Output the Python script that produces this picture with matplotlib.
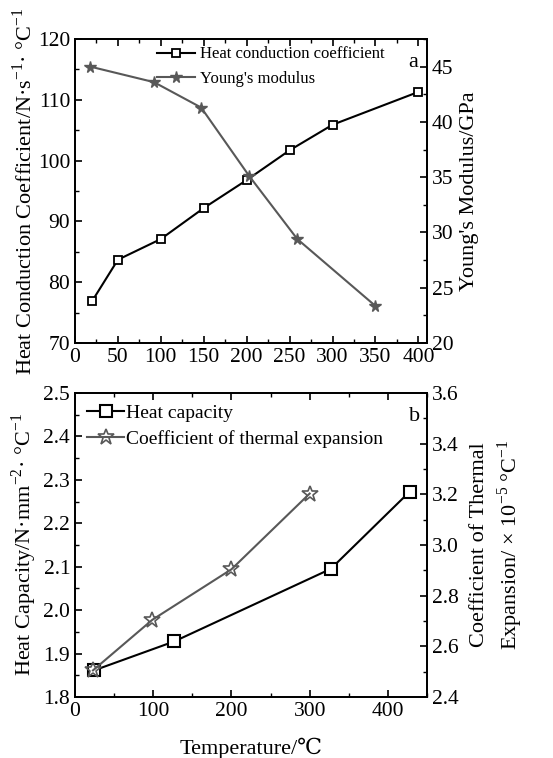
import matplotlib
matplotlib.use("Agg")
import matplotlib.pyplot as plt
from matplotlib.ticker import MultipleLocator

plt.rcParams["font.family"] = ["Liberation Serif", "DejaVu Serif"]
plt.rcParams["mathtext.fontset"] = "custom"
plt.rcParams["mathtext.rm"] = "Liberation Serif"
plt.rcParams["xtick.direction"] = "in"
plt.rcParams["ytick.direction"] = "in"

# panel a
temp_hc = [20, 50, 100, 150, 200, 250, 300, 400]
heat_cond = [76.9, 83.7, 87.1, 92.2, 96.8, 101.7, 105.9, 111.3]
temp_ym = [18, 92, 147, 203, 259, 350]
youngs = [45.0, 43.6, 41.3, 35.1, 29.4, 23.35]

# panel b
temp_cap = [24, 127, 327, 428]
heat_cap = [1.861, 1.928, 2.095, 2.273]
temp_cte = [23, 99, 200, 300]
cte = [2.505, 2.705, 2.904, 3.203]

GRAY = "#585858"
TICK_FS = 15.5
LABEL_FS = 16


def style_axis(ax):
    ax.tick_params(which="major", length=5, width=1.2, labelsize=TICK_FS)
    ax.tick_params(which="minor", length=3, width=1.0)
    for sp in ax.spines.values():
        sp.set_linewidth(1.3)


fig = plt.figure(figsize=(5.53, 7.58), dpi=100)

# ---- top panel ----
ax1 = fig.add_axes([0.1356, 0.5475, 0.6365, 0.401])
ax1.plot(temp_hc, heat_cond, color="black", lw=1.5, marker="s", ms=6,
         mfc="white", mec="black", mew=1.3, label="Heat conduction coefficient")
ax1.set_xlim(0, 410)
ax1.set_ylim(70, 120)
ax1.xaxis.set_major_locator(MultipleLocator(50))
ax1.xaxis.set_minor_locator(MultipleLocator(25))
ax1.yaxis.set_major_locator(MultipleLocator(10))
ax1.yaxis.set_minor_locator(MultipleLocator(5))
ax1.tick_params(axis="x", which="both", top=True)
style_axis(ax1)

ax2 = ax1.twinx()
ax2.plot(temp_ym, youngs, color=GRAY, lw=1.5, marker="*", ms=8.5,
         mfc=GRAY, mec=GRAY, label="Young's modulus")
ax2.set_ylim(20, 47.5)
ax2.yaxis.set_major_locator(MultipleLocator(5))
ax2.yaxis.set_minor_locator(MultipleLocator(2.5))
style_axis(ax2)

h1, l1 = ax1.get_legend_handles_labels()
h2, l2 = ax2.get_legend_handles_labels()
ax1.legend(h1 + h2, l1 + l2, loc="upper left", bbox_to_anchor=(0.19, 1.025),
           frameon=False, fontsize=12, handlelength=2.3, handletextpad=0.3,
           labelspacing=0.5)
ax1.text(0.975, 0.955, "a", transform=ax1.transAxes, ha="right", va="top",
         fontsize=16)
ax1.text(-0.143, 0.5, "Heat Conduction Coefficient/N·s$^{-1}$· °C$^{-1}$",
         transform=ax1.transAxes, rotation=90, ha="center", va="center",
         fontsize=LABEL_FS)
ax1.text(1.12, 0.5, "Young's Modulus/GPa", transform=ax1.transAxes,
         rotation=90, ha="center", va="center", fontsize=LABEL_FS)

# ---- bottom panel ----
ax3 = fig.add_axes([0.1356, 0.0805, 0.6365, 0.401])
ax3.plot(temp_cap, heat_cap, color="black", lw=1.5, marker="s", ms=8,
         mfc="white", mec="black", mew=1.5, label="Heat capacity")
ax3.set_xlim(0, 450)
ax3.set_ylim(1.8, 2.5)
ax3.xaxis.set_major_locator(MultipleLocator(100))
ax3.xaxis.set_minor_locator(MultipleLocator(50))
ax3.yaxis.set_major_locator(MultipleLocator(0.1))
ax3.yaxis.set_minor_locator(MultipleLocator(0.05))
ax3.tick_params(axis="x", which="both", top=True)
style_axis(ax3)
ax3.set_xlabel("Temperature/℃", fontsize=LABEL_FS, labelpad=12)

ax4 = ax3.twinx()
ax4.plot(temp_cte, cte, color=GRAY, lw=1.5, marker="*", ms=12,
         mfc="none", mec=GRAY, mew=1.2, label="Coefficient of thermal expansion")
ax4.set_ylim(2.4, 3.6)
ax4.yaxis.set_major_locator(MultipleLocator(0.2))
ax4.yaxis.set_minor_locator(MultipleLocator(0.1))
style_axis(ax4)

h3, l3 = ax3.get_legend_handles_labels()
h4, l4 = ax4.get_legend_handles_labels()
ax3.legend(h3 + h4, l3 + l4, loc="upper left", bbox_to_anchor=(-0.015, 1.02),
           frameon=False, fontsize=14, handlelength=1.9, handletextpad=0.1,
           labelspacing=0.4)
ax3.text(0.98, 0.955, "b", transform=ax3.transAxes, ha="right", va="top",
         fontsize=16)
ax3.text(-0.145, 0.5, "Heat Capacity/N·mm$^{-2}$· °C$^{-1}$",
         transform=ax3.transAxes, rotation=90, ha="center", va="center",
         fontsize=LABEL_FS)
ax3.text(1.2, 0.5, "Coefficient of Thermal\nExpansion/ × 10$^{-5}$ °C$^{-1}$",
         transform=ax3.transAxes, rotation=90, ha="center", va="center",
         fontsize=LABEL_FS, linespacing=1.3)

fig.savefig("out.png", dpi=100)
